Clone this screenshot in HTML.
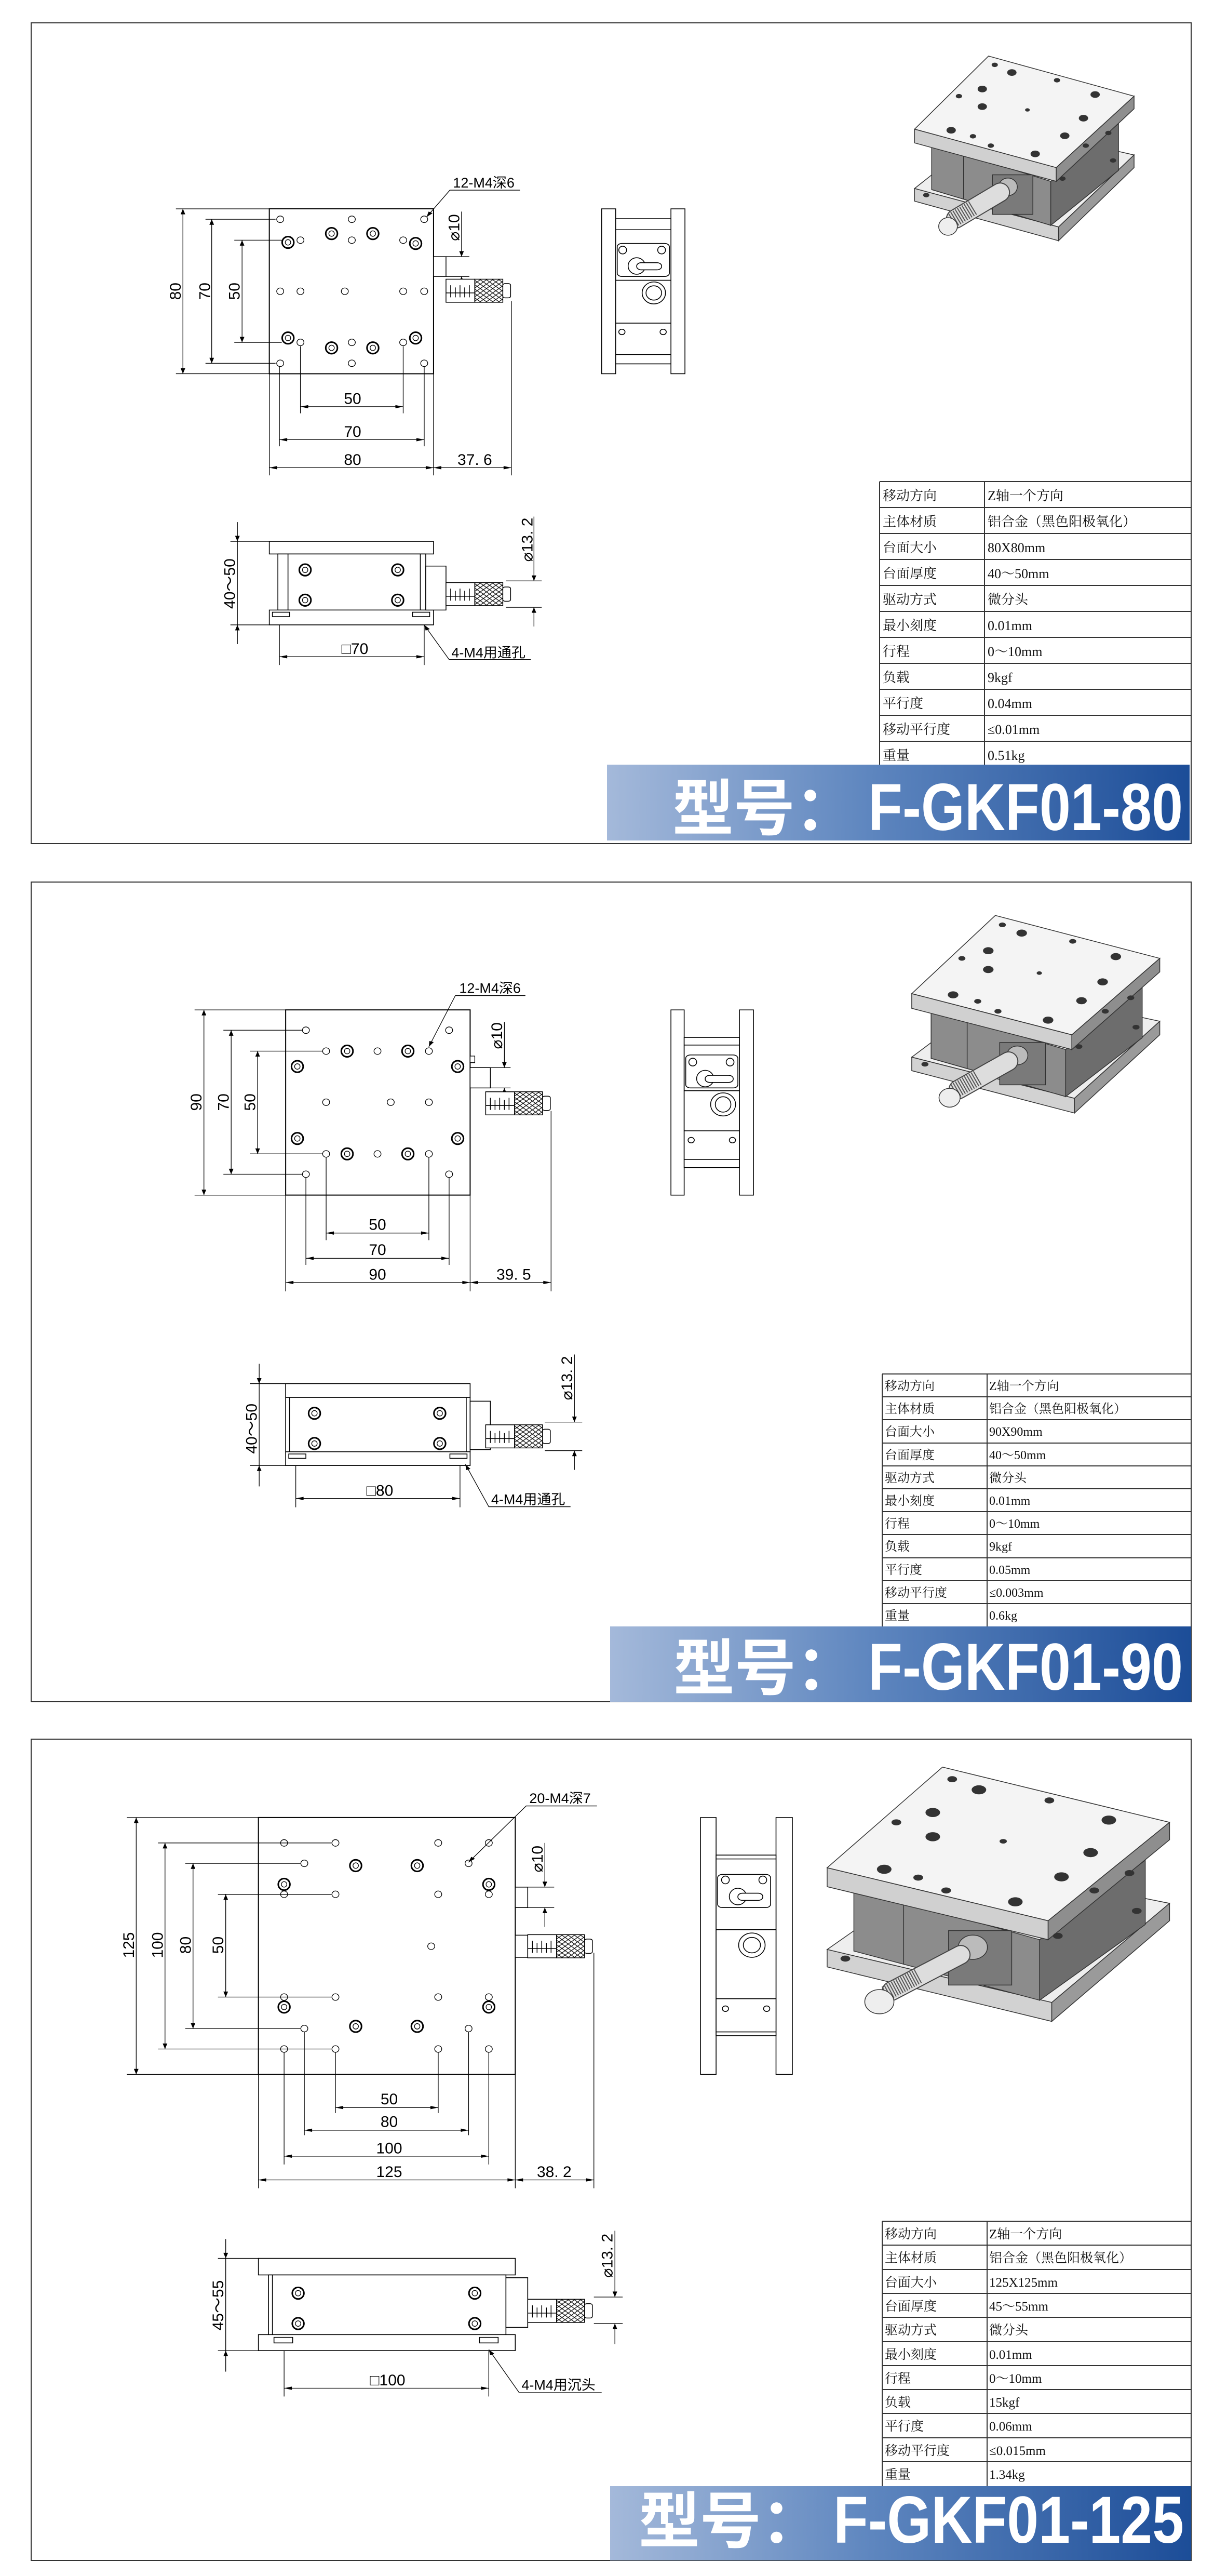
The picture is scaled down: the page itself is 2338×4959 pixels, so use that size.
<!DOCTYPE html>
<html><head><meta charset="utf-8"><style>
html,body{margin:0;padding:0;background:#fff}
svg{display:block}
line,rect,polygon,ellipse,path,polyline,circle{vector-effect:non-scaling-stroke}
.t{font-family:"Liberation Sans","Noto Sans CJK SC","DejaVu Sans",sans-serif;font-size:30px;fill:#000;stroke:none;text-anchor:middle}
.l{text-anchor:start;font-size:27px}
.tb{font-family:"Liberation Serif","Noto Serif CJK SC",serif;font-size:26px;fill:#111;stroke:none}
.bn{font-family:"Liberation Sans","Noto Sans CJK SC",sans-serif;font-weight:bold;fill:#fff;stroke:none}
</style></head><body>
<svg width="2338" height="4959" viewBox="0 0 2338 4959" xmlns="http://www.w3.org/2000/svg">
<defs>
<marker id="a" viewBox="0 0 10 6" refX="10" refY="3" markerWidth="13" markerHeight="6" markerUnits="userSpaceOnUse" orient="auto-start-reverse"><path d="M0,0L10,3L0,6z" fill="#000" stroke="none"/></marker>
<pattern id="kn" patternUnits="userSpaceOnUse" width="8" height="8"><path d="M0,0L8,8M8,0L0,8" stroke="#000" stroke-width="1" fill="none"/></pattern>
<linearGradient id="bg" x1="0" x2="1" y1="0" y2="0"><stop offset="0" stop-color="#a4b9da"/><stop offset=".45" stop-color="#5e86bf"/><stop offset="1" stop-color="#1c4d98"/></linearGradient>
<g id="h"><ellipse rx="4.5" ry="6" fill="#fff" stroke="#000" stroke-width="1.3"/></g>
<g id="cb"><ellipse rx="7.5" ry="10.5" fill="#fff" stroke="#000" stroke-width="3"/><ellipse rx="3.5" ry="5" fill="#fff" stroke="#000" stroke-width="1.3"/></g>
<g id="mic" stroke="#000" stroke-width="1.5">
<rect x="0" y="-21" width="37" height="42" fill="#fff"/>
<line x1="6" y1="-10" x2="6" y2="12"/><line x1="12" y1="-6" x2="12" y2="12"/><line x1="18" y1="-10" x2="18" y2="12"/><line x1="24" y1="-6" x2="24" y2="12"/><line x1="30" y1="-10" x2="30" y2="12"/><line x1="0" y1="4" x2="37" y2="4"/>
<rect x="37" y="-21" width="36" height="42" fill="url(#kn)"/>
<rect x="73" y="-13" width="10" height="26" rx="3" fill="#fff"/>
</g>
<g id="iso" stroke="#333" stroke-width="1.5">
<polygon points="1175,343 1280,225 1457,282 1360,413" fill="#eeeeee"/>
<polygon points="1175,343 1360,413 1360,438 1175,366" fill="#d2d2d2"/>
<polygon points="1360,413 1457,282 1457,305 1360,438" fill="#9a9a9a"/>
<polygon points="1197,262 1350,330 1350,410 1197,345" fill="#8c8c8c"/>
<polygon points="1350,330 1437,225 1437,310 1350,410" fill="#6d6d6d"/>
<line x1="1238" y1="280" x2="1238" y2="362"/>
<rect x="1275" y="318" width="52" height="72" fill="#7a7a7a"/>
<ellipse cx="1295" cy="340" rx="12" ry="16" fill="#bbb"/>
<line x1="1285" y1="350" x2="1228" y2="398" stroke="#444" stroke-width="38" stroke-linecap="round"/>
<line x1="1285" y1="350" x2="1228" y2="398" stroke="#ddd" stroke-width="34" stroke-linecap="round"/>
<line x1="1250" y1="378" x2="1222" y2="402" stroke="#555" stroke-width="30" stroke-dasharray="2 3"/>
<ellipse cx="1218" cy="412" rx="12" ry="16" fill="#eee"/>
<polygon points="1175,235 1270,102 1457,175 1357,305" fill="#f4f4f4"/>
<polygon points="1175,235 1357,305 1357,330 1175,260" fill="#d0d0d0"/>
<polygon points="1357,305 1457,175 1457,198 1357,330" fill="#8e8e8e"/>
<g fill="#333" stroke="none">
<ellipse cx="1278" cy="118" rx="4" ry="4"/><ellipse cx="1300" cy="132" rx="6" ry="6"/><ellipse cx="1358" cy="146" rx="4" ry="4"/><ellipse cx="1262" cy="162" rx="6" ry="6"/><ellipse cx="1407" cy="172" rx="6" ry="6"/><ellipse cx="1232" cy="175" rx="4" ry="4"/><ellipse cx="1262" cy="194" rx="6" ry="6"/><ellipse cx="1320" cy="200" rx="3" ry="3"/><ellipse cx="1392" cy="215" rx="6" ry="6"/><ellipse cx="1222" cy="237" rx="6" ry="6"/><ellipse cx="1250" cy="248" rx="4" ry="4"/><ellipse cx="1368" cy="247" rx="6" ry="6"/><ellipse cx="1424" cy="242" rx="4" ry="4"/><ellipse cx="1273" cy="265" rx="4" ry="4"/><ellipse cx="1330" cy="280" rx="6" ry="6"/><ellipse cx="1395" cy="265" rx="4" ry="4"/><ellipse cx="1365" cy="325" rx="4" ry="4"/><ellipse cx="1190" cy="355" rx="4" ry="4"/><ellipse cx="1430" cy="292" rx="4" ry="4"/></g>
</g>
</defs>

<!-- borders -->
<g fill="none" stroke="#333" stroke-width="2">
<rect x="60" y="44" width="2234" height="1580"/>
<rect x="60" y="1698" width="2234" height="1578"/>
<rect x="60" y="3348" width="2234" height="1581"/>
</g>

<!-- PANEL 1 -->
<g transform="scale(1.499,1.058)" stroke="#000" fill="none" stroke-width="1.3">
<rect x="346" y="380" width="211" height="300" fill="#fff" stroke-width="2"/>
<use href="#h" x="360" y="399"/><use href="#h" x="545" y="399"/><use href="#h" x="360" y="661"/><use href="#h" x="545" y="661"/>
<use href="#h" x="386" y="437"/><use href="#h" x="518" y="437"/><use href="#h" x="386" y="623"/><use href="#h" x="518" y="623"/>
<use href="#h" x="360" y="530"/><use href="#h" x="386" y="530"/><use href="#h" x="443" y="530"/><use href="#h" x="518" y="530"/><use href="#h" x="545" y="530"/>
<use href="#h" x="452" y="399"/><use href="#h" x="452" y="437"/><use href="#h" x="452" y="623"/><use href="#h" x="452" y="661"/>
<use href="#cb" x="426" y="425"/><use href="#cb" x="479" y="425"/><use href="#cb" x="370" y="441"/><use href="#cb" x="534" y="443"/><use href="#cb" x="370" y="615"/><use href="#cb" x="534" y="615"/><use href="#cb" x="426" y="633"/><use href="#cb" x="479" y="633"/>
<line x1="226" y1="380" x2="346" y2="380"/><line x1="226" y1="680" x2="346" y2="680"/><line x1="264" y1="399" x2="354" y2="399"/><line x1="264" y1="661" x2="354" y2="661"/><line x1="301" y1="437" x2="362" y2="437"/><line x1="301" y1="623" x2="362" y2="623"/>
<line x1="235" y1="380" x2="235" y2="680" marker-start="url(#a)" marker-end="url(#a)"/>
<line x1="272" y1="399" x2="272" y2="661" marker-start="url(#a)" marker-end="url(#a)"/>
<line x1="311" y1="437" x2="311" y2="623" marker-start="url(#a)" marker-end="url(#a)"/>
<line x1="386" y1="630" x2="386" y2="752"/><line x1="518" y1="630" x2="518" y2="752"/><line x1="359" y1="668" x2="359" y2="812"/><line x1="545" y1="668" x2="545" y2="812"/><line x1="346" y1="680" x2="346" y2="865"/><line x1="557" y1="680" x2="557" y2="865"/><line x1="657" y1="548" x2="657" y2="865"/>
<line x1="386" y1="740" x2="518" y2="740" marker-start="url(#a)" marker-end="url(#a)"/>
<line x1="359" y1="800" x2="545" y2="800" marker-start="url(#a)" marker-end="url(#a)"/>
<line x1="346" y1="851" x2="557" y2="851" marker-start="url(#a)" marker-end="url(#a)"/>
<line x1="557" y1="851" x2="657" y2="851" marker-start="url(#a)" marker-end="url(#a)"/>
<rect x="557" y="467" width="16" height="36" fill="#fff" stroke-width="1.5"/>
<line x1="573" y1="467" x2="603" y2="467"/><line x1="573" y1="503" x2="603" y2="503"/>
<line x1="593" y1="385" x2="593" y2="467" marker-end="url(#a)"/><line x1="593" y1="525" x2="593" y2="503" marker-end="url(#a)"/>
<use href="#mic" x="573" y="529"/>
<polyline points="548,395 578,346 668,346" marker-start="url(#a)"/>
<!-- side view -->
<g stroke-width="1.6" fill="#fff">
<rect x="773" y="380" width="18" height="300"/><rect x="862" y="380" width="18" height="300"/>
<rect x="791" y="398" width="71" height="264"/>
<line x1="791" y1="418" x2="862" y2="418"/><line x1="791" y1="645" x2="862" y2="645"/>
<rect x="793" y="443" width="67" height="60" rx="6"/>
<ellipse cx="818" cy="484" rx="11" ry="15"/><rect x="818" y="478" width="32" height="13" rx="6"/>
<ellipse cx="800" cy="455" rx="5" ry="7"/><ellipse cx="850" cy="455" rx="5" ry="7"/>
<line x1="791" y1="510" x2="862" y2="510"/>
<ellipse cx="840" cy="533" rx="15" ry="20"/><ellipse cx="840" cy="533" rx="10" ry="13"/>
<line x1="791" y1="588" x2="862" y2="588"/>
<ellipse cx="799" cy="604" rx="4" ry="5"/><ellipse cx="852" cy="604" rx="4" ry="5"/>
</g>
<!-- front view -->
<g stroke-width="1.6" fill="#fff">
<rect x="346" y="985" width="211" height="23"/>
<rect x="357" y="1008" width="190" height="102"/>
<line x1="370" y1="1008" x2="370" y2="1110"/><line x1="540" y1="1008" x2="540" y2="1110"/>
<rect x="346" y="1110" width="211" height="27"/>
<rect x="350" y="1114" width="22" height="8"/><rect x="530" y="1114" width="22" height="8"/>
<rect x="547" y="1030" width="26" height="80"/>
</g>
<use href="#cb" x="392" y="1037"/><use href="#cb" x="511" y="1037"/><use href="#cb" x="392" y="1092"/><use href="#cb" x="511" y="1092"/>
<use href="#mic" x="573" y="1081"/>
<line x1="296" y1="985" x2="346" y2="985"/><line x1="296" y1="1137" x2="346" y2="1137"/>
<line x1="305" y1="950" x2="305" y2="985" marker-end="url(#a)"/><line x1="305" y1="1172" x2="305" y2="1137" marker-end="url(#a)"/><line x1="305" y1="985" x2="305" y2="1137"/>
<line x1="359" y1="1137" x2="359" y2="1210"/><line x1="545" y1="1137" x2="545" y2="1210"/>
<line x1="359" y1="1195" x2="545" y2="1195" marker-start="url(#a)" marker-end="url(#a)"/>
<line x1="650" y1="1057" x2="696" y2="1057"/><line x1="650" y1="1105" x2="696" y2="1105"/>
<line x1="686" y1="940" x2="686" y2="1057" marker-end="url(#a)"/><line x1="686" y1="1140" x2="686" y2="1105" marker-end="url(#a)"/>
<polyline points="545,1137 577,1200 682,1200" marker-start="url(#a)"/>
<use href="#iso"/>
<g>
<text class="t" transform="translate(453,735) scale(.667,.945)">50</text>
<text class="t" transform="translate(453,795) scale(.667,.945)">70</text>
<text class="t" transform="translate(453,846) scale(.667,.945)">80</text>
<text class="t" transform="translate(610,846) scale(.667,.945)">37. 6</text>
<text class="t" transform="translate(232,530) scale(.667,.945) rotate(-90)">80</text>
<text class="t" transform="translate(270,530) scale(.667,.945) rotate(-90)">70</text>
<text class="t" transform="translate(308,530) scale(.667,.945) rotate(-90)">50</text>
<text class="t" transform="translate(590,414) scale(.667,.945) rotate(-90)">⌀10</text>
<text class="t l" transform="translate(582,341) scale(.667,.945)">12-M4深6</text>
<text class="t" transform="translate(302,1062) scale(.667,.945) rotate(-90)">40～50</text>
<text class="t" transform="translate(456,1190) scale(.667,.945)">□70</text>
<text class="t" transform="translate(684,982) scale(.667,.945) rotate(-90)">⌀13. 2</text>
<text class="t l" transform="translate(580,1196) scale(.667,.945)">4-M4用通孔</text>
</g>
</g>

<!-- PANEL 2 -->
<g transform="translate(0,1650) scale(1.499,1.058)" stroke="#000" fill="none" stroke-width="1.3">
<rect x="367" y="278" width="237" height="337" fill="#fff" stroke-width="2"/>
<use href="#h" x="393" y="315"/><use href="#h" x="577" y="315"/><use href="#h" x="393" y="577"/><use href="#h" x="577" y="577"/>
<use href="#h" x="419" y="353"/><use href="#h" x="485" y="353"/><use href="#h" x="551" y="353"/><use href="#h" x="419" y="540"/><use href="#h" x="485" y="540"/><use href="#h" x="551" y="540"/>
<use href="#h" x="419" y="446"/><use href="#h" x="502" y="446"/><use href="#h" x="551" y="446"/>
<use href="#cb" x="446" y="353"/><use href="#cb" x="524" y="353"/><use href="#cb" x="382" y="381"/><use href="#cb" x="588" y="381"/><use href="#cb" x="382" y="512"/><use href="#cb" x="588" y="512"/><use href="#cb" x="446" y="540"/><use href="#cb" x="524" y="540"/>
<line x1="250" y1="278" x2="367" y2="278"/><line x1="250" y1="615" x2="367" y2="615"/><line x1="287" y1="315" x2="388" y2="315"/><line x1="287" y1="577" x2="388" y2="577"/><line x1="321" y1="353" x2="414" y2="353"/><line x1="321" y1="540" x2="414" y2="540"/>
<line x1="262" y1="278" x2="262" y2="615" marker-start="url(#a)" marker-end="url(#a)"/>
<line x1="297" y1="315" x2="297" y2="577" marker-start="url(#a)" marker-end="url(#a)"/>
<line x1="331" y1="353" x2="331" y2="540" marker-start="url(#a)" marker-end="url(#a)"/>
<line x1="419" y1="546" x2="419" y2="697"/><line x1="551" y1="546" x2="551" y2="697"/><line x1="393" y1="583" x2="393" y2="742"/><line x1="577" y1="583" x2="577" y2="742"/><line x1="367" y1="615" x2="367" y2="790"/><line x1="604" y1="615" x2="604" y2="790"/><line x1="708" y1="462" x2="708" y2="790"/>
<line x1="419" y1="684" x2="551" y2="684" marker-start="url(#a)" marker-end="url(#a)"/>
<line x1="393" y1="730" x2="577" y2="730" marker-start="url(#a)" marker-end="url(#a)"/>
<line x1="367" y1="774" x2="604" y2="774" marker-start="url(#a)" marker-end="url(#a)"/>
<line x1="604" y1="774" x2="708" y2="774" marker-start="url(#a)" marker-end="url(#a)"/>
<rect x="604" y="383" width="26" height="37" fill="#fff" stroke-width="1.5"/><rect x="604" y="362" width="6" height="12" fill="#fff"/>
<line x1="630" y1="383" x2="656" y2="383"/><line x1="630" y1="420" x2="656" y2="420"/>
<line x1="648" y1="300" x2="648" y2="383" marker-end="url(#a)"/><line x1="648" y1="440" x2="648" y2="420" marker-end="url(#a)"/>
<use href="#mic" x="624" y="448"/>
<polyline points="551,345 585,252 675,252" marker-start="url(#a)"/>
<g stroke-width="1.6" fill="#fff">
<rect x="862" y="278" width="17" height="337"/><rect x="950" y="278" width="18" height="337"/>
<rect x="879" y="328" width="71" height="237"/>
<line x1="879" y1="342" x2="950" y2="342"/><line x1="879" y1="550" x2="950" y2="550"/>
<rect x="881" y="360" width="67" height="60" rx="6"/>
<ellipse cx="906" cy="403" rx="11" ry="15"/><rect x="906" y="397" width="36" height="13" rx="6"/>
<ellipse cx="890" cy="373" rx="5" ry="7"/><ellipse cx="938" cy="373" rx="5" ry="7"/>
<line x1="879" y1="425" x2="950" y2="425"/>
<ellipse cx="929" cy="450" rx="16" ry="21"/><ellipse cx="929" cy="450" rx="10" ry="14"/>
<line x1="879" y1="498" x2="950" y2="498"/>
<ellipse cx="888" cy="515" rx="4" ry="5"/><ellipse cx="941" cy="515" rx="4" ry="5"/>
</g>
<g stroke-width="1.6" fill="#fff">
<rect x="367" y="958" width="237" height="25"/>
<rect x="367" y="983" width="237" height="99"/>
<line x1="372" y1="983" x2="372" y2="1082"/><line x1="599" y1="983" x2="599" y2="1082"/>
<rect x="367" y="1082" width="237" height="25"/>
<rect x="371" y="1086" width="22" height="8"/><rect x="578" y="1086" width="22" height="8"/>
<rect x="604" y="990" width="26" height="88"/>
</g>
<use href="#cb" x="404" y="1012"/><use href="#cb" x="565" y="1012"/><use href="#cb" x="404" y="1067"/><use href="#cb" x="565" y="1067"/>
<use href="#mic" x="624" y="1054"/>
<line x1="321" y1="958" x2="367" y2="958"/><line x1="321" y1="1107" x2="367" y2="1107"/>
<line x1="333" y1="922" x2="333" y2="958" marker-end="url(#a)"/><line x1="333" y1="1145" x2="333" y2="1107" marker-end="url(#a)"/><line x1="333" y1="958" x2="333" y2="1107"/>
<line x1="380" y1="1107" x2="380" y2="1183"/><line x1="591" y1="1107" x2="591" y2="1183"/>
<line x1="380" y1="1167" x2="591" y2="1167" marker-start="url(#a)" marker-end="url(#a)"/>
<line x1="700" y1="1028" x2="748" y2="1028"/><line x1="700" y1="1080" x2="748" y2="1080"/>
<line x1="738" y1="905" x2="738" y2="1028" marker-end="url(#a)"/><line x1="738" y1="1115" x2="738" y2="1080" marker-end="url(#a)"/>
<polyline points="598,1105 628,1182 733,1182" marker-start="url(#a)"/>
<use href="#iso" transform="translate(1168,104) scale(1.13,1.07) translate(-1172,-100)"/>
<g>
<text class="t" transform="translate(485,678) scale(.667,.945)">50</text>
<text class="t" transform="translate(485,724) scale(.667,.945)">70</text>
<text class="t" transform="translate(485,769) scale(.667,.945)">90</text>
<text class="t" transform="translate(660,769) scale(.667,.945)">39. 5</text>
<text class="t" transform="translate(259,446) scale(.667,.945) rotate(-90)">90</text>
<text class="t" transform="translate(294,446) scale(.667,.945) rotate(-90)">70</text>
<text class="t" transform="translate(328,446) scale(.667,.945) rotate(-90)">50</text>
<text class="t" transform="translate(645,325) scale(.667,.945) rotate(-90)">⌀10</text>
<text class="t l" transform="translate(590,247) scale(.667,.945)">12-M4深6</text>
<text class="t" transform="translate(330,1040) scale(.667,.945) rotate(-90)">40～50</text>
<text class="t" transform="translate(488,1162) scale(.667,.945)">□80</text>
<text class="t" transform="translate(735,948) scale(.667,.945) rotate(-90)">⌀13. 2</text>
<text class="t l" transform="translate(631,1177) scale(.667,.945)">4-M4用通孔</text>
</g>
</g>

<!-- PANEL 3 -->
<g transform="translate(0,3300) scale(1.499,1.0635)" stroke="#000" fill="none" stroke-width="1.3">
<rect x="332" y="187" width="330" height="465" fill="#fff" stroke-width="2"/>
<use href="#h" x="365" y="233"/><use href="#h" x="431" y="233"/><use href="#h" x="563" y="233"/><use href="#h" x="628" y="233"/>
<use href="#h" x="391" y="270"/><use href="#h" x="602" y="270"/>
<use href="#h" x="365" y="326"/><use href="#h" x="431" y="326"/><use href="#h" x="563" y="326"/><use href="#h" x="628" y="326"/>
<use href="#h" x="554" y="420"/>
<use href="#h" x="365" y="512"/><use href="#h" x="431" y="512"/><use href="#h" x="563" y="512"/><use href="#h" x="628" y="512"/>
<use href="#h" x="391" y="569"/><use href="#h" x="602" y="569"/>
<use href="#h" x="365" y="606"/><use href="#h" x="431" y="606"/><use href="#h" x="563" y="606"/><use href="#h" x="628" y="606"/>
<use href="#cb" x="457" y="274"/><use href="#cb" x="536" y="274"/><use href="#cb" x="365" y="308"/><use href="#cb" x="628" y="308"/><use href="#cb" x="365" y="530"/><use href="#cb" x="628" y="530"/><use href="#cb" x="457" y="565"/><use href="#cb" x="536" y="565"/>
<line x1="163" y1="187" x2="332" y2="187"/><line x1="163" y1="652" x2="332" y2="652"/>
<line x1="203" y1="233" x2="426" y2="233"/><line x1="203" y1="606" x2="426" y2="606"/>
<line x1="238" y1="270" x2="386" y2="270"/><line x1="238" y1="569" x2="386" y2="569"/>
<line x1="280" y1="326" x2="426" y2="326"/><line x1="280" y1="512" x2="426" y2="512"/>
<line x1="175" y1="187" x2="175" y2="652" marker-start="url(#a)" marker-end="url(#a)"/>
<line x1="212" y1="233" x2="212" y2="606" marker-start="url(#a)" marker-end="url(#a)"/>
<line x1="248" y1="270" x2="248" y2="569" marker-start="url(#a)" marker-end="url(#a)"/>
<line x1="290" y1="326" x2="290" y2="512" marker-start="url(#a)" marker-end="url(#a)"/>
<line x1="431" y1="612" x2="431" y2="722"/><line x1="563" y1="612" x2="563" y2="722"/><line x1="391" y1="575" x2="391" y2="762"/><line x1="602" y1="575" x2="602" y2="762"/><line x1="365" y1="612" x2="365" y2="815"/><line x1="628" y1="612" x2="628" y2="815"/><line x1="332" y1="652" x2="332" y2="858"/><line x1="662" y1="652" x2="662" y2="858"/><line x1="763" y1="432" x2="763" y2="858"/>
<line x1="431" y1="712" x2="563" y2="712" marker-start="url(#a)" marker-end="url(#a)"/>
<line x1="391" y1="753" x2="602" y2="753" marker-start="url(#a)" marker-end="url(#a)"/>
<line x1="365" y1="800" x2="628" y2="800" marker-start="url(#a)" marker-end="url(#a)"/>
<line x1="332" y1="843" x2="662" y2="843" marker-start="url(#a)" marker-end="url(#a)"/>
<line x1="662" y1="843" x2="763" y2="843" marker-start="url(#a)" marker-end="url(#a)"/>
<rect x="662" y="313" width="16" height="37" fill="#fff" stroke-width="1.5"/>
<rect x="662" y="400" width="16" height="40" fill="#fff" stroke-width="1.5"/>
<line x1="678" y1="313" x2="712" y2="313"/><line x1="678" y1="350" x2="712" y2="350"/>
<line x1="700" y1="233" x2="700" y2="313" marker-end="url(#a)"/><line x1="700" y1="385" x2="700" y2="350" marker-end="url(#a)"/>
<use href="#mic" x="678" y="420"/>
<polyline points="602,268 676,166 767,166" marker-start="url(#a)"/>
<g stroke-width="1.6" fill="#fff">
<rect x="900" y="187" width="20" height="465"/><rect x="997" y="187" width="21" height="465"/>
<rect x="920" y="255" width="77" height="327"/>
<line x1="920" y1="262" x2="997" y2="262"/><line x1="920" y1="575" x2="997" y2="575"/>
<rect x="922" y="290" width="68" height="60" rx="6"/>
<ellipse cx="948" cy="330" rx="11" ry="15"/><rect x="948" y="324" width="32" height="13" rx="6"/>
<ellipse cx="932" cy="300" rx="5" ry="7"/><ellipse cx="980" cy="300" rx="5" ry="7"/>
<line x1="920" y1="390" x2="997" y2="390"/>
<ellipse cx="966" cy="418" rx="17" ry="22"/><ellipse cx="966" cy="418" rx="11" ry="14"/>
<line x1="920" y1="515" x2="997" y2="515"/>
<ellipse cx="932" cy="533" rx="4" ry="5"/><ellipse cx="985" cy="533" rx="4" ry="5"/>
</g>
<g stroke-width="1.6" fill="#fff">
<rect x="332" y="985" width="330" height="30"/>
<rect x="345" y="1015" width="305" height="108"/>
<line x1="350" y1="1015" x2="350" y2="1123"/>
<rect x="332" y="1123" width="330" height="29"/>
<rect x="352" y="1128" width="24" height="10"/><rect x="616" y="1128" width="24" height="10"/>
<rect x="650" y="1020" width="28" height="90"/>
</g>
<use href="#cb" x="383" y="1048"/><use href="#cb" x="610" y="1048"/><use href="#cb" x="383" y="1103"/><use href="#cb" x="610" y="1103"/>
<use href="#mic" x="678" y="1080"/>
<line x1="280" y1="985" x2="332" y2="985"/><line x1="280" y1="1152" x2="332" y2="1152"/>
<line x1="290" y1="950" x2="290" y2="985" marker-end="url(#a)"/><line x1="290" y1="1190" x2="290" y2="1152" marker-end="url(#a)"/><line x1="290" y1="985" x2="290" y2="1152"/>
<line x1="365" y1="1152" x2="365" y2="1235"/><line x1="628" y1="1152" x2="628" y2="1235"/>
<line x1="365" y1="1220" x2="628" y2="1220" marker-start="url(#a)" marker-end="url(#a)"/>
<line x1="763" y1="1055" x2="800" y2="1055"/><line x1="763" y1="1103" x2="800" y2="1103"/>
<line x1="790" y1="935" x2="790" y2="1055" marker-end="url(#a)"/><line x1="790" y1="1140" x2="790" y2="1103" marker-end="url(#a)"/>
<polyline points="628,1150 667,1228 773,1228" marker-start="url(#a)"/>
<use href="#iso" transform="translate(1058,93) scale(1.56,1.37) translate(-1172,-100)"/>
<g>
<text class="t" transform="translate(500,706) scale(.667,.94)">50</text>
<text class="t" transform="translate(500,747) scale(.667,.94)">80</text>
<text class="t" transform="translate(500,795) scale(.667,.94)">100</text>
<text class="t" transform="translate(500,838) scale(.667,.94)">125</text>
<text class="t" transform="translate(712,838) scale(.667,.94)">38. 2</text>
<text class="t" transform="translate(172,418) scale(.667,.94) rotate(-90)">125</text>
<text class="t" transform="translate(209,418) scale(.667,.94) rotate(-90)">100</text>
<text class="t" transform="translate(245,418) scale(.667,.94) rotate(-90)">80</text>
<text class="t" transform="translate(287,418) scale(.667,.94) rotate(-90)">50</text>
<text class="t" transform="translate(697,262) scale(.667,.94) rotate(-90)">⌀10</text>
<text class="t l" transform="translate(680,161) scale(.667,.94)">20-M4深7</text>
<text class="t" transform="translate(287,1070) scale(.667,.94) rotate(-90)">45～55</text>
<text class="t" transform="translate(498,1215) scale(.667,.94)">□100</text>
<text class="t" transform="translate(787,980) scale(.667,.94) rotate(-90)">⌀13. 2</text>
<text class="t l" transform="translate(670,1223) scale(.667,.94)">4-M4用沉头</text>
</g>
</g>

<!-- TABLE 1 -->
<g stroke="#333" stroke-width="2">
<line x1="1694" y1="927" x2="2294" y2="927"/><line x1="1694" y1="977" x2="2294" y2="977"/><line x1="1694" y1="1027" x2="2294" y2="1027"/><line x1="1694" y1="1077" x2="2294" y2="1077"/><line x1="1694" y1="1127" x2="2294" y2="1127"/><line x1="1694" y1="1177" x2="2294" y2="1177"/><line x1="1694" y1="1227" x2="2294" y2="1227"/><line x1="1694" y1="1277" x2="2294" y2="1277"/><line x1="1694" y1="1327" x2="2294" y2="1327"/><line x1="1694" y1="1377" x2="2294" y2="1377"/><line x1="1694" y1="1427" x2="2294" y2="1427"/>
<line x1="1694" y1="927" x2="1694" y2="1480"/><line x1="1896" y1="927" x2="1896" y2="1480"/>
</g>
<g class="tb">
<text x="1700" y="963">移动方向</text><text x="1902" y="963">Z轴一个方向</text>
<text x="1700" y="1013">主体材质</text><text x="1902" y="1013">铝合金（黑色阳极氧化）</text>
<text x="1700" y="1063">台面大小</text><text x="1902" y="1063">80X80mm</text>
<text x="1700" y="1113">台面厚度</text><text x="1902" y="1113">40～50mm</text>
<text x="1700" y="1163">驱动方式</text><text x="1902" y="1163">微分头</text>
<text x="1700" y="1213">最小刻度</text><text x="1902" y="1213">0.01mm</text>
<text x="1700" y="1263">行程</text><text x="1902" y="1263">0～10mm</text>
<text x="1700" y="1313">负载</text><text x="1902" y="1313">9kgf</text>
<text x="1700" y="1363">平行度</text><text x="1902" y="1363">0.04mm</text>
<text x="1700" y="1413">移动平行度</text><text x="1902" y="1413">≤0.01mm</text>
<text x="1700" y="1463">重量</text><text x="1902" y="1463">0.51kg</text>
</g>
<rect x="1169" y="1472" width="1122" height="146" fill="url(#bg)"/>
<text class="bn" x="1295" y="1598" font-size="118">型号：</text>
<text class="bn" x="1672" y="1598" font-size="128" textLength="606" lengthAdjust="spacingAndGlyphs">F-GKF01-80</text>

<!-- TABLE 2 -->
<g stroke="#333" stroke-width="2">
<line x1="1699" y1="2645" x2="2294" y2="2645"/><line x1="1699" y1="2689" x2="2294" y2="2689"/><line x1="1699" y1="2733" x2="2294" y2="2733"/><line x1="1699" y1="2778" x2="2294" y2="2778"/><line x1="1699" y1="2822" x2="2294" y2="2822"/><line x1="1699" y1="2866" x2="2294" y2="2866"/><line x1="1699" y1="2910" x2="2294" y2="2910"/><line x1="1699" y1="2954" x2="2294" y2="2954"/><line x1="1699" y1="2999" x2="2294" y2="2999"/><line x1="1699" y1="3043" x2="2294" y2="3043"/><line x1="1699" y1="3087" x2="2294" y2="3087"/>
<line x1="1699" y1="2645" x2="1699" y2="3131"/><line x1="1901" y1="2645" x2="1901" y2="3131"/>
</g>
<g class="tb" font-size="24" style="font-size:24px">
<text x="1704" y="2676">移动方向</text><text x="1905" y="2676">Z轴一个方向</text>
<text x="1704" y="2720">主体材质</text><text x="1905" y="2720">铝合金（黑色阳极氧化）</text>
<text x="1704" y="2764">台面大小</text><text x="1905" y="2764">90X90mm</text>
<text x="1704" y="2809">台面厚度</text><text x="1905" y="2809">40～50mm</text>
<text x="1704" y="2853">驱动方式</text><text x="1905" y="2853">微分头</text>
<text x="1704" y="2897">最小刻度</text><text x="1905" y="2897">0.01mm</text>
<text x="1704" y="2941">行程</text><text x="1905" y="2941">0～10mm</text>
<text x="1704" y="2985">负载</text><text x="1905" y="2985">9kgf</text>
<text x="1704" y="3030">平行度</text><text x="1905" y="3030">0.05mm</text>
<text x="1704" y="3074">移动平行度</text><text x="1905" y="3074">≤0.003mm</text>
<text x="1704" y="3118">重量</text><text x="1905" y="3118">0.6kg</text>
</g>
<rect x="1175" y="3131" width="1119" height="145" fill="url(#bg)"/>
<text class="bn" x="1297" y="3253" font-size="118">型号：</text>
<text class="bn" x="1672" y="3253" font-size="128" textLength="606" lengthAdjust="spacingAndGlyphs">F-GKF01-90</text>

<!-- TABLE 3 -->
<g stroke="#333" stroke-width="2">
<line x1="1699" y1="4276" x2="2294" y2="4276"/><line x1="1699" y1="4322" x2="2294" y2="4322"/><line x1="1699" y1="4369" x2="2294" y2="4369"/><line x1="1699" y1="4415" x2="2294" y2="4415"/><line x1="1699" y1="4461" x2="2294" y2="4461"/><line x1="1699" y1="4508" x2="2294" y2="4508"/><line x1="1699" y1="4554" x2="2294" y2="4554"/><line x1="1699" y1="4600" x2="2294" y2="4600"/><line x1="1699" y1="4646" x2="2294" y2="4646"/><line x1="1699" y1="4693" x2="2294" y2="4693"/><line x1="1699" y1="4739" x2="2294" y2="4739"/>
<line x1="1699" y1="4276" x2="1699" y2="4786"/><line x1="1901" y1="4276" x2="1901" y2="4786"/>
</g>
<g class="tb" style="font-size:25px">
<text x="1704" y="4309">移动方向</text><text x="1905" y="4309">Z轴一个方向</text>
<text x="1704" y="4355">主体材质</text><text x="1905" y="4355">铝合金（黑色阳极氧化）</text>
<text x="1704" y="4402">台面大小</text><text x="1905" y="4402">125X125mm</text>
<text x="1704" y="4448">台面厚度</text><text x="1905" y="4448">45～55mm</text>
<text x="1704" y="4494">驱动方式</text><text x="1905" y="4494">微分头</text>
<text x="1704" y="4541">最小刻度</text><text x="1905" y="4541">0.01mm</text>
<text x="1704" y="4587">行程</text><text x="1905" y="4587">0～10mm</text>
<text x="1704" y="4633">负载</text><text x="1905" y="4633">15kgf</text>
<text x="1704" y="4679">平行度</text><text x="1905" y="4679">0.06mm</text>
<text x="1704" y="4726">移动平行度</text><text x="1905" y="4726">≤0.015mm</text>
<text x="1704" y="4772">重量</text><text x="1905" y="4772">1.34kg</text>
</g>
<rect x="1175" y="4786" width="1119" height="143" fill="url(#bg)"/>
<text class="bn" x="1230" y="4895" font-size="118">型号：</text>
<text class="bn" x="1605" y="4895" font-size="128" textLength="675" lengthAdjust="spacingAndGlyphs">F-GKF01-125</text>
</svg>
</body></html>
